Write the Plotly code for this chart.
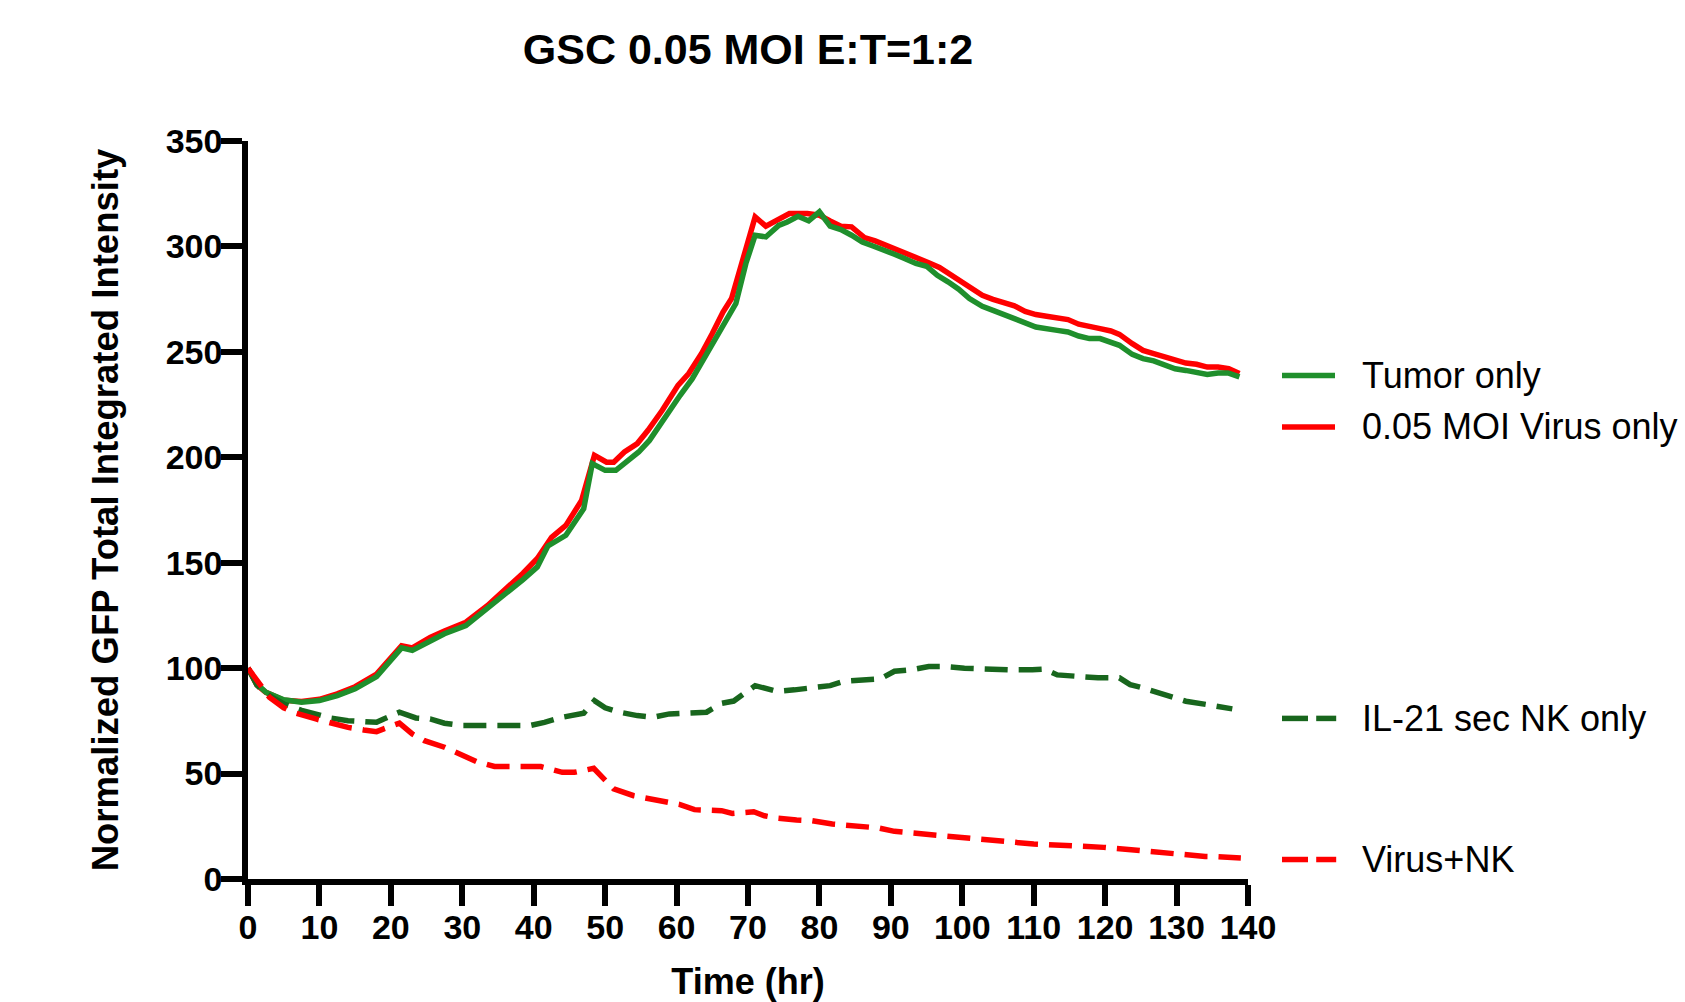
import plotly.graph_objects as go

# ---------------- data ----------------
tumor_t = [0, 1.25, 2.5, 5, 7.5, 10, 12.5, 15, 18, 21.5, 23, 25.5, 27.5, 30.5, 33.5, 36, 38.5, 40.5,
           42, 44.5, 47, 48.2, 50, 51.5, 53, 54.7, 56.2, 58.2, 60.5, 62.2, 64, 65.5, 66.7, 68.3, 69.7,
           71, 72.5, 74.3, 75.5, 77, 78.5, 80, 81.5, 83, 84.5, 86, 87.5, 89, 90.5, 92, 93.5, 95, 96.5,
           98, 99.5, 101, 102.8, 104.3, 105.8, 107.3, 108.8, 110.3, 113.3, 114.8, 116.3, 117.8, 119.3,
           120.8, 122, 123.8, 125.3, 126.8, 128.3, 129.8, 131.3, 132.8, 134.3, 135.8, 137.2, 138.8]
tumor_v = [100, 92.5, 88.6, 85, 83.8, 84.6, 87, 90.2, 96, 109.6, 108.4, 113.1, 116.3, 120.2, 128.1,
           135, 142, 148, 158, 163, 175.6, 197, 193.8, 193.8, 197.7, 202.5, 208, 218.3, 229.4, 237.3,
           247.6, 257, 262.6, 272.9, 291.9, 305.3, 304.5, 310, 311.6, 314.3, 312.1, 316.4, 309.6, 308,
           305.3, 302.1, 300.2, 297.9, 296.3, 294.2, 291.9, 290.6, 286.3, 283.2, 279.7, 275.3, 271.6,
           269.7, 267.8, 265.8, 263.7, 261.8, 260.2, 259.4, 257.5, 256.3, 256.3, 254.7, 253.1, 248.8,
           246.8, 245.7, 243.6, 242, 241.2, 240.4, 239.3, 240, 240, 238.1]

virus_t = [0, 1.25, 2.5, 5, 7.5, 10, 12.5, 15, 18, 21.5, 23, 25.5, 27.5, 30.5, 33.5, 36, 38.5, 40.5,
           42.5, 44.5, 46.7, 48.5, 50.2, 51.2, 52.7, 54.5, 56, 58, 60.2, 61.7, 63.5, 65, 66.5, 67.7,
           69.5, 71, 72.5, 74, 75.8, 78.3, 80, 81.5, 83, 84.5, 86.3, 87.8, 89.3, 90.8, 92.3, 93.8, 95.3,
           96.8, 98.3, 99.8, 101.3, 102.8, 104.3, 105.8, 107.3, 108.8, 110.3, 111.8, 113.3, 114.8,
           116.3, 117.8, 119.3, 120.8, 122, 123.8, 125.3, 126.8, 128.3, 129.8, 131.3, 132.8, 134.3,
           135.8, 137.3, 138.8]
virus_v = [100, 92, 88.5, 84.8, 84.2, 85.2, 87.8, 91.2, 97.2, 110.6, 109.6, 114.5, 117.6, 121.8,
           129.6, 137, 145, 152, 162, 167.7, 179.5, 200.9, 197.7, 197.7, 202.5, 206.5, 212.8, 222.3,
           234.1, 239.7, 249.2, 258.7, 268.9, 275.3, 296.6, 314, 309.6, 312.4, 315.6, 315.6, 314.8,
           312.1, 309.6, 309.3, 304.2, 302.6, 300.6, 298.7, 296.9, 294.3, 292.3, 290, 286.8, 283.6,
           280, 276.8, 274.9, 273.4, 271.8, 269.2, 267.7, 266.9, 266.2, 265.3, 263.1, 261.8, 261,
           259.9, 258.3, 253.9, 250.7, 249.2, 247.6, 246, 244.7, 244.1, 242.8, 242.8, 242, 239.7]

il21_t = [0, 1.25, 2.5, 5, 7.5, 10, 11.5, 14, 16.5, 18, 19, 21.2, 23.5, 25.5, 27.5, 30, 33, 37.5,
          39.5, 41.5, 44, 47, 48.5, 50, 52, 54.5, 56.7, 59, 62, 64.2, 66.3, 68, 71, 74, 76.5, 78.8,
          81.5, 83.5, 86.3, 88.5, 90.5, 92.8, 95.3, 97.3, 100.3, 102.3, 104.8, 106.8, 109.8, 111.5,
          113.3, 116.3, 119, 122, 123.5, 125.3, 128, 129.8, 131.3, 134.3, 137.8]
il21_v = [100, 92, 88, 83, 80, 77.5, 76.4, 75.1, 74.8, 74.3, 75.9, 79.1, 76.4, 75.9, 73.9, 72.8,
          72.8, 73.1, 72.8, 74.3, 76.7, 78.6, 84.6, 81.2, 79.1, 77.5, 76.7, 78.3, 78.8, 79.1, 83.3,
          84.4, 91.7, 89.0, 89.7, 90.9, 91.7, 93.8, 94.6, 94.9, 98.5, 99.2, 100.8, 100.8, 100, 99.7,
          98.9, 99.2, 99.2, 99.5, 96.8, 96.0, 95.4, 95.4, 92.2, 90.6, 87.5, 85.9, 84.3, 82.7, 80.7]

vnk_t = [0, 1.75, 3, 5, 6.75, 9.5, 11.5, 14, 16.2, 18, 19, 21.2, 23, 24.7, 27.5, 29.5, 32, 34.5,
         38.5, 41, 44, 45.7, 48.4, 49.7, 51.2, 54, 57.5, 60.5, 62.5, 66.3, 67.8, 70.8, 72.3, 74,
         76.8, 78.8, 81.8, 83.5, 86.5, 88.3, 90.5, 93, 95.8, 97.8, 100.3, 102.8, 105.3, 107.3, 110,
         112, 115, 116.8, 119.8, 121.3, 124.3, 126, 129.3, 131, 134, 135.8, 139]
vnk_v = [100, 91.7, 86.2, 81.2, 78.6, 75.9, 73.9, 71.9, 70.7, 69.9, 71.2, 73.9, 68.8, 65.6, 62.5,
         59.6, 55.7, 53.4, 53.0, 53.3, 50.6, 50.6, 52.5, 48.2, 42.7, 39.5, 37.2, 35.3, 32.9, 32.4,
         31.1, 31.9, 30.0, 28.9, 28.0, 27.7, 26.1, 25.6, 24.5, 24.2, 22.6, 21.8, 20.9, 20.1, 19.7,
         19.0, 17.8, 17.4, 16.6, 16.3, 16.1, 15.5, 15.0, 14.5, 13.4, 13.0, 12.2, 11.5, 10.7, 10.6,
         10.0]

series_names = ["Tumor only", "0.05 MOI Virus only", "IL-21 sec NK only", "Virus+NK"]
x_ticks = list(range(0, 141, 10))
y_ticks = list(range(0, 351, 50))
title_text = "GSC 0.05 MOI E:T=1:2"
x_title = "Time (hr)"
y_title = "Normalized GFP Total Integrated Intensity"

# ---------------- styling ----------------
GREEN = "#1f8f2c"
DKGREEN = "#18661d"
RED = "#ff0000"
FONT = "Liberation Sans, Arial, sans-serif"
LW = 5.5
DASH = "23px,11px"

fig = go.Figure()
# drawing order: red solid, green solid, green dashed, red dashed
fig.add_trace(go.Scatter(x=virus_t, y=virus_v, mode="lines", name=series_names[1],
                         line=dict(color=RED, width=LW), cliponaxis=False))
fig.add_trace(go.Scatter(x=tumor_t, y=tumor_v, mode="lines", name=series_names[0],
                         line=dict(color=GREEN, width=LW), cliponaxis=False))
fig.add_trace(go.Scatter(x=il21_t, y=il21_v, mode="lines", name=series_names[2],
                         line=dict(color=DKGREEN, width=LW, dash=DASH), cliponaxis=False))
fig.add_trace(go.Scatter(x=vnk_t, y=vnk_v, mode="lines", name=series_names[3],
                         line=dict(color=RED, width=LW, dash=DASH), cliponaxis=False))

# ---------------- Prism-style legend placed beside the curve ends ----------------
leg_y = [0.6824, 0.6125, 0.2176, 0.0264]
leg_col = [GREEN, RED, DKGREEN, RED]
leg_dashed = [False, False, True, True]
shapes = []
annotations = []
for name, yy, col, dashed in zip(series_names, leg_y, leg_col, leg_dashed):
    segs = [(1.034, 1.060), (1.0682, 1.0882)] if dashed else [(1.034, 1.087)]
    for x0, x1 in segs:
        shapes.append(dict(type="line", xref="paper", yref="paper", x0=x0, x1=x1, y0=yy, y1=yy,
                           line=dict(color=col, width=LW)))
    annotations.append(dict(text=name, xref="paper", yref="paper", x=1.112, y=yy,
                            xanchor="left", yanchor="middle", showarrow=False,
                            font=dict(family=FONT, size=36, color="black")))

axis_common = dict(
    showline=True, linewidth=LW, linecolor="black",
    ticks="outside", ticklen=21, tickwidth=LW, tickcolor="black",
    ticklabelstandoff=-8,
    tickfont=dict(family=FONT, size=34, color="black", weight="bold"),
    showgrid=False, zeroline=False, automargin=False,
)

fig.update_layout(
    width=1685, height=1002, autosize=False,
    paper_bgcolor="white", plot_bgcolor="white",
    margin=dict(l=248, r=437, t=141, b=123),
    showlegend=False,
    title=dict(text=title_text, x=0.5, xref="paper", y=1 - 48.5 / 1002, yref="container",
               xanchor="center", yanchor="middle",
               font=dict(family=FONT, size=43, color="black", weight="bold")),
    xaxis=dict(range=[0, 140], tickvals=x_ticks,
               title=dict(text=x_title, standoff=30,
                          font=dict(family=FONT, size=36, color="black", weight="bold")),
               **axis_common),
    yaxis=dict(range=[0, 350], tickvals=y_ticks,
               title=dict(text=y_title, standoff=38,
                          font=dict(family=FONT, size=36.5, color="black", weight="bold")),
               **axis_common),
    shapes=shapes,
    annotations=annotations,
)

fig.write_html("out.html",
               config={"displayModeBar": False},
               post_script="document.body.style.margin='0';document.body.style.overflow='hidden';")
